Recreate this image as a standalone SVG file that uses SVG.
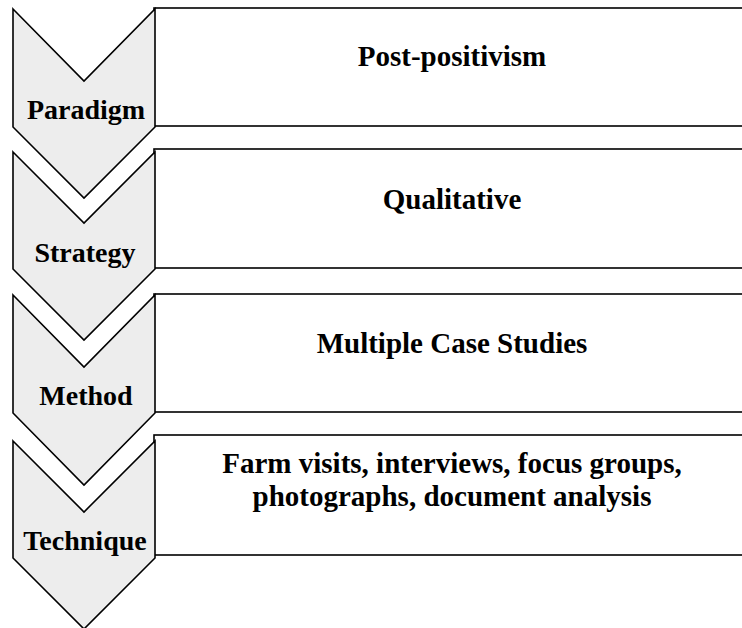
<svg xmlns="http://www.w3.org/2000/svg" width="742" height="628" viewBox="0 0 742 628">
  <style>
    .chev { fill: #ededed; stroke: #000; stroke-width: 1.6; stroke-linejoin: miter; }
    .box { fill: #fff; stroke: #000; stroke-width: 1.6; }
    .lbl { font-family: "Liberation Serif", "Times New Roman", serif; font-weight: bold; font-size: 28px; fill: #000; text-anchor: middle; }
    .txt { font-family: "Liberation Serif", "Times New Roman", serif; font-weight: bold; font-size: 29px; fill: #000; text-anchor: middle; }
  </style>
  <rect width="742" height="628" fill="#fff"/>

  <!-- Paradigm -->
  <g id="paradigm">
    <rect class="box" x="154" y="8" width="620" height="118"/>
    <path class="chev" d="M13,9 L84,81 L155,9 L155,127 L84,198 L13,127 Z"/>
    <text class="lbl" x="86" y="119">Paradigm</text>
    <text class="txt" x="452" y="66">Post-positivism</text>
  </g>

  <!-- Strategy -->
  <g id="strategy">
    <rect class="box" x="154" y="149" width="620" height="119"/>
    <path class="chev" d="M13,152 L84,223 L155,152 L155,269 L84,340 L13,269 Z"/>
    <text class="lbl" x="85" y="262">Strategy</text>
    <text class="txt" x="452" y="209">Qualitative</text>
  </g>

  <!-- Method -->
  <g id="method">
    <rect class="box" x="154" y="294" width="620" height="118"/>
    <path class="chev" d="M13,295 L84,367 L155,295 L155,413 L84,485 L13,413 Z"/>
    <text class="lbl" x="86" y="405">Method</text>
    <text class="txt" x="452" y="353">Multiple Case Studies</text>
  </g>

  <!-- Technique -->
  <g id="technique">
    <rect class="box" x="154" y="435" width="620" height="120"/>
    <path class="chev" d="M13,441 L84,512 L155,441 L155,558 L84,629 L13,558 Z"/>
    <text class="lbl" x="85" y="550">Technique</text>
    <text class="txt" x="452" y="473">Farm visits, interviews, focus groups,</text>
    <text class="txt" x="452" y="506">photographs, document analysis</text>
  </g>

  <g id="connectors"/>
</svg>
